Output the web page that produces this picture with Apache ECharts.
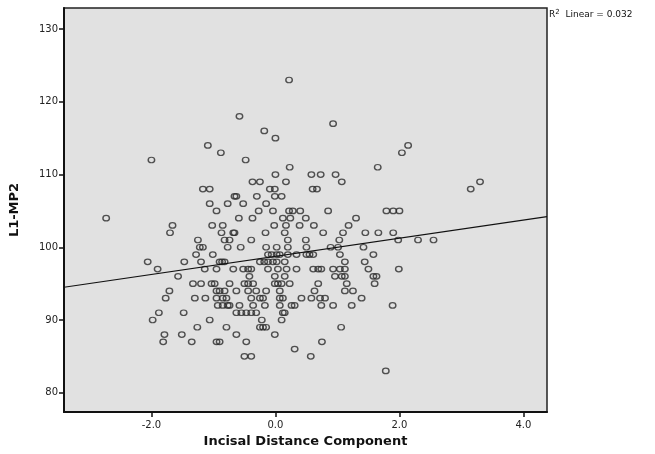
<!DOCTYPE html>
<html>
<head>
<meta charset="utf-8">
<script src="https://cdn.jsdelivr.net/npm/echarts@6/dist/echarts.min.js"></script>
<style>
  html, body { margin: 0; padding: 0; background: #fff; }
  #chart { width: 655px; height: 454px; }
</style>
</head>
<body>
<div id="chart"></div>
<script>
// axis ranges and tick labels
const xRange = [-3.41, 4.38]
const yRange = [77.35, 132.9]
const xTicks = [-2, 0, 2, 4]
const yTicks = [80, 90, 100, 110, 120, 130]

// fit line from the plot, R2 Linear = 0.032
const lineIntercept = 98.75
const lineSlope = 1.245
const rSquared = '0.032'

// [Incisal Distance Component, L1-MP2]
const points = [
  [0.22, 123], [-0.58, 118], [0.93, 117], [-0.18, 116], [0.0, 115],
  [-1.09, 114], [2.14, 114], [-0.88, 113], [2.04, 113], [-2.0, 112], [-0.48, 112],
  [0.23, 111], [1.65, 111],
  [0.0, 110], [0.58, 110], [0.73, 110], [0.97, 110],
  [-0.37, 109], [-0.25, 109], [0.17, 109], [1.07, 109], [3.30, 109],
  [-1.17, 108], [-1.06, 108], [-0.09, 108], [-0.01, 108], [0.6, 108], [0.67, 108], [3.15, 108],
  [-0.66, 107], [-0.63, 107], [-0.30, 107], [-0.01, 107], [0.10, 107],
  [-1.06, 106], [-0.77, 106], [-0.52, 106], [-0.15, 106],
  [-0.95, 105], [-0.27, 105], [-0.04, 105], [0.22, 105], [0.28, 105], [0.40, 105], [0.85, 105], [1.79, 105], [1.90, 105], [2.0, 105],
  [-2.73, 104], [-0.59, 104], [-0.37, 104], [0.12, 104], [0.24, 104], [0.49, 104], [1.30, 104],
  [-1.66, 103], [-1.02, 103], [-0.85, 103], [-0.02, 103], [0.17, 103], [0.39, 103], [0.62, 103], [1.18, 103],
  [-1.70, 102], [-0.87, 102], [-0.68, 102], [-0.66, 102], [-0.16, 102], [0.15, 102], [0.77, 102], [1.09, 102], [1.45, 102], [1.66, 102], [1.90, 102],
  [-1.25, 101], [-0.82, 101], [-0.74, 101], [-0.39, 101], [0.2, 101], [0.49, 101], [1.03, 101], [1.98, 101], [2.30, 101], [2.55, 101],
  [-1.22, 100], [-1.17, 100], [-0.77, 100], [-0.56, 100], [-0.15, 100], [0.02, 100], [0.2, 100], [0.5, 100], [0.89, 100], [1.01, 100], [1.42, 100],
  [-1.28, 99], [-1.01, 99], [-0.12, 99], [-0.06, 99], [0.02, 99], [0.07, 99], [0.2, 99], [0.34, 99], [0.5, 99], [0.55, 99], [0.61, 99], [1.04, 99], [1.58, 99],
  [-2.06, 98], [-1.47, 98], [-1.2, 98], [-0.9, 98], [-0.86, 98], [-0.82, 98], [-0.25, 98], [-0.18, 98], [-0.12, 98], [-0.04, 98], [0.02, 98], [0.15, 98], [1.12, 98], [1.44, 98],
  [-1.9, 97], [-1.14, 97], [-0.95, 97], [-0.68, 97], [-0.52, 97], [-0.44, 97], [-0.39, 97], [-0.12, 97], [0.04, 97], [0.18, 97], [0.34, 97], [0.61, 97], [0.69, 97], [0.74, 97], [0.93, 97], [1.04, 97], [1.12, 97], [1.50, 97], [1.99, 97],
  [-1.57, 96], [-0.42, 96], [-0.01, 96], [0.15, 96], [0.96, 96], [1.07, 96], [1.12, 96], [1.58, 96], [1.63, 96],
  [-1.33, 95], [-1.2, 95], [-1.03, 95], [-0.98, 95], [-0.74, 95], [-0.50, 95], [-0.44, 95], [-0.36, 95], [-0.01, 95], [0.04, 95], [0.10, 95], [0.23, 95], [0.69, 95], [1.15, 95], [1.60, 95],
  [-1.71, 94], [-0.95, 94], [-0.9, 94], [-0.82, 94], [-0.63, 94], [-0.44, 94], [-0.31, 94], [-0.15, 94], [0.07, 94], [0.63, 94], [1.12, 94], [1.25, 94],
  [-1.77, 93], [-1.30, 93], [-1.13, 93], [-0.95, 93], [-0.85, 93], [-0.79, 93], [-0.39, 93], [-0.25, 93], [-0.2, 93], [0.07, 93], [0.12, 93], [0.42, 93], [0.58, 93], [0.72, 93], [0.8, 93], [1.39, 93],
  [-0.93, 92], [-0.85, 92], [-0.77, 92], [-0.74, 92], [-0.58, 92], [-0.36, 92], [-0.17, 92], [0.07, 92], [0.26, 92], [0.31, 92], [0.74, 92], [0.93, 92], [1.23, 92], [1.89, 92],
  [-1.88, 91], [-1.48, 91], [-0.63, 91], [-0.55, 91], [-0.47, 91], [-0.39, 91], [-0.31, 91], [0.12, 91], [0.15, 91],
  [-1.98, 90], [-1.06, 90], [-0.22, 90], [0.10, 90],
  [-1.26, 89], [-0.79, 89], [-0.25, 89], [-0.2, 89], [-0.15, 89], [1.06, 89],
  [-1.79, 88], [-1.51, 88], [-0.63, 88], [-0.01, 88],
  [-1.81, 87], [-1.35, 87], [-0.95, 87], [-0.9, 87], [-0.47, 87], [0.75, 87],
  [0.31, 86],
  [-0.50, 85], [-0.39, 85], [0.57, 85],
  [1.78, 83]
]

const chart = echarts.init(document.getElementById('chart'))

const fitLine = xRange.map(x => [x, lineIntercept + lineSlope * x])

const tickLabel = {
  fontSize: 10,
  color: '#222',
  fontFamily: 'DejaVu Sans'
}

chart.setOption({
  animation: false,
  grid: {
    left: 64,
    right: 108,
    top: 8,
    bottom: 42,
    outerBoundsMode: 'none',
    containLabel: false,
    show: true,
    backgroundColor: '#e1e1e1',
    borderColor: '#222',
    borderWidth: 1.5
  },
  xAxis: {
    type: 'value',
    min: xRange[0],
    max: xRange[1],
    name: 'Incisal Distance Component',
    nameLocation: 'middle',
    nameGap: 22,
    nameTextStyle: { fontSize: 13, fontWeight: 'bold', color: '#111', fontFamily: 'DejaVu Sans' },
    splitLine: { show: false },
    axisLine: { show: true, onZero: false, lineStyle: { color: '#111', width: 2 } },
    axisTick: { show: true, length: 5, customValues: xTicks, lineStyle: { color: '#111', width: 1.5 } },
    axisLabel: {
      ...tickLabel,
      customValues: xTicks,
      margin: 8,
      formatter: v => v.toFixed(1)
    }
  },
  yAxis: {
    type: 'value',
    min: yRange[0],
    max: yRange[1],
    name: 'L1-MP2',
    nameLocation: 'middle',
    nameRotate: 90,
    nameGap: 43,
    nameTextStyle: { fontSize: 13, fontWeight: 'bold', color: '#111', fontFamily: 'DejaVu Sans' },
    splitLine: { show: false },
    axisLine: { show: true, onZero: false, lineStyle: { color: '#111', width: 2 } },
    axisTick: { show: true, length: 5, customValues: yTicks, lineStyle: { color: '#111', width: 1.5 } },
    axisLabel: {
      ...tickLabel,
      customValues: yTicks,
      margin: 6,
      formatter: v => String(v)
    }
  },
  graphic: [
    {
      type: 'text',
      left: 549,
      top: 9,
      style: {
        text: '{r|R}{sup|2}{r|  Linear = ' + rSquared + '}',
        rich: {
          r: { fontSize: 9, fill: '#111', fontFamily: 'DejaVu Sans' },
          sup: { fontSize: 7, fill: '#111', fontFamily: 'DejaVu Sans', verticalAlign: 'top', padding: [0, 0, 4, 0] }
        }
      }
    }
  ],
  series: [
    {
      type: 'scatter',
      data: points,
      symbol: 'circle',
      symbolSize: [6.5, 5.5],
      itemStyle: {
        color: 'rgba(0,0,0,0)',
        borderColor: '#2a2a2a',
        borderWidth: 1.3
      },
      z: 3
    },
    {
      type: 'line',
      data: fitLine,
      symbol: 'none',
      lineStyle: { color: '#111', width: 1.2 },
      z: 4
    }
  ]
})
</script>
</body>
</html>
